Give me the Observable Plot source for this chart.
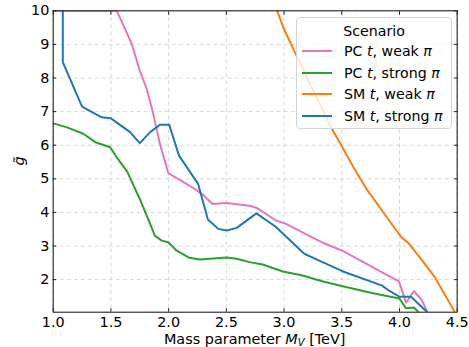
<!DOCTYPE html>
<html>
<head>
<meta charset="utf-8">
<script src="https://cdn.jsdelivr.net/npm/d3@7"></script>
<script src="https://cdn.jsdelivr.net/npm/@observablehq/plot@0.6"></script>
<style>
  html, body { margin: 0; padding: 0; background: white; }
  #wrap { position: relative; width: 469px; height: 347px; font-family: "DejaVu Sans", sans-serif; }
  #legend { position: absolute; left: 296px; top: 17px; width: 154px; height: 110px;
    border: 1px solid #d4d4d4; border-radius: 4px; background: rgba(255,255,255,0.8);
    font-size: 14.2px; color: #000; }
  #legend .title { position: absolute; left: 0; width: 100%; text-align: center; top: 5px; line-height: 16px; }
  #legend .row { position: absolute; left: 0; width: 100%; height: 16px; line-height: 16px; }
  #legend .swatch { position: absolute; left: 5px; top: 7px; width: 30px; height: 2px; }
  #legend .lab { position: absolute; left: 47px; top: 0; white-space: nowrap; }
  i { font-style: italic; }
</style>
</head>
<body>
<div id="wrap">
  <div id="chart"></div>
  <div id="legend"></div>
</div>
<script>
// ---- Data ----
const seriesNames = ["PC t, weak π", "PC t, strong π", "SM t, weak π", "SM t, strong π"];
const seriesColors = ["#e377c2", "#2ca02c", "#ff7f0e", "#1f77b4"];

const pcWeakX = [1.0, 1.55, 1.61, 1.68, 1.75, 1.81, 1.86, 1.925, 1.997, 2.18, 2.30, 2.38, 2.50, 2.70, 2.76, 2.93, 3.017, 3.13, 3.32, 3.505, 3.83, 3.995, 4.057, 4.125, 4.195, 4.24];
const pcWeakY = [10.0, 10.0, 9.56, 9.02, 8.22, 7.68, 7.03, 6.04, 5.17, 4.80, 4.52, 4.25, 4.28, 4.20, 4.14, 3.76, 3.66, 3.46, 3.12, 2.86, 2.25, 1.95, 1.31, 1.66, 1.38, 1.04];

const pcStrongX = [1.0, 1.12, 1.26, 1.365, 1.494, 1.55, 1.64, 1.75, 1.84, 1.88, 1.94, 1.997, 2.07, 2.18, 2.27, 2.50, 2.59, 2.70, 2.815, 2.99, 3.16, 3.33, 3.49, 3.76, 4.0, 4.055, 4.125, 4.165];
const pcStrongY = [6.65, 6.53, 6.34, 6.09, 5.94, 5.64, 5.22, 4.40, 3.66, 3.31, 3.16, 3.11, 2.86, 2.65, 2.60, 2.66, 2.62, 2.52, 2.45, 2.24, 2.12, 1.95, 1.82, 1.60, 1.44, 1.15, 1.17, 1.03];

const smWeakX = [2.94, 2.95, 3.0, 3.1, 3.2, 3.3, 3.42, 3.505, 3.6, 3.66, 3.72, 3.85, 3.91, 4.02, 4.08, 4.2, 4.31, 4.48];
const smWeakY = [10.0, 9.91, 9.45, 8.72, 8.0, 7.3, 6.45, 5.94, 5.35, 5.0, 4.67, 4.05, 3.76, 3.25, 3.08, 2.55, 2.05, 1.03];

const smStrongX = [1.083, 1.083, 1.25, 1.42, 1.50, 1.666, 1.75, 1.84, 1.925, 2.005, 2.09, 2.255, 2.34, 2.43, 2.505, 2.59, 2.76, 2.925, 3.017, 3.175, 3.30, 3.505, 3.85, 3.91, 4.0, 4.10, 4.24];
const smStrongY = [10.0, 8.47, 7.15, 6.83, 6.80, 6.39, 6.06, 6.39, 6.61, 6.61, 5.69, 4.85, 3.79, 3.51, 3.46, 3.54, 3.97, 3.58, 3.28, 2.77, 2.57, 2.25, 1.82, 1.67, 1.49, 1.49, 1.03];

const xTicks = [1.0, 1.5, 2.0, 2.5, 3.0, 3.5, 4.0, 4.5];
const yTicks = [2, 3, 4, 5, 6, 7, 8, 9, 10];

// ---- Build table ----
const seriesXY = [[pcWeakX, pcWeakY], [pcStrongX, pcStrongY], [smWeakX, smWeakY], [smStrongX, smStrongY]];
const rows = seriesXY.flatMap(([xs, ys], k) => xs.map((x, i) => ({x, y: ys[i], s: seriesNames[k]})));

const gridStyle = {stroke: "#b0b0b0", strokeOpacity: 0.55, strokeDasharray: "4,3", strokeWidth: 0.9};

const svg = Plot.plot({
  width: 469, height: 347,
  marginLeft: 52.7, marginRight: 12.3, marginTop: 10.3, marginBottom: 35.3,
  style: {fontFamily: "DejaVu Sans, sans-serif", fontSize: "14.4px", color: "#000", background: "white", overflow: "visible"},
  x: {domain: [1, 4.5]},
  y: {domain: [1.03, 10]},
  color: {domain: seriesNames, range: seriesColors},
  marks: [
    Plot.gridX(xTicks, gridStyle),
    Plot.gridY(yTicks, gridStyle),
    Plot.line(rows, {x: "x", y: "y", z: "s", stroke: "s", strokeWidth: 2, clip: true}),
    Plot.frame({stroke: "#222", strokeWidth: 1.1}),
    Plot.axisX(xTicks, {anchor: "bottom", tickSize: -3.5, tickPadding: 8.5, tickFormat: d3.format(".1f"), label: null, stroke: "#222"}),
    Plot.axisX(xTicks, {anchor: "top", tickSize: -3.5, tickFormat: () => "", label: null, stroke: "#222"}),
    Plot.axisY(yTicks, {anchor: "left", tickSize: -3.5, tickPadding: 7.3, label: null, stroke: "#222"}),
    Plot.axisY(yTicks, {anchor: "right", tickSize: -3.5, tickFormat: () => "", label: null, stroke: "#222"})
  ]
});
document.getElementById("chart").appendChild(svg);

// Axis labels with math styling
const s = d3.select(svg);
const xl = s.append("text").attr("x", 254.7).attr("y", 343.5).attr("text-anchor", "middle")
  .attr("font-size", "14.4px").attr("fill", "#000");
xl.append("tspan").text("Mass parameter ");
xl.append("tspan").attr("font-style", "italic").text("M");
xl.append("tspan").attr("font-style", "italic").attr("font-size", "10px").attr("dy", "2.5").text("V");
xl.append("tspan").attr("dy", "-2.5").text(" [TeV]");

s.append("text").attr("transform", "translate(24,161) rotate(-90)").attr("text-anchor", "middle")
  .attr("font-size", "14.4px").attr("font-style", "italic").attr("fill", "#000").text("g\u0303");

// Legend
const legend = document.getElementById("legend");
legend.innerHTML = '<div class="title">Scenario</div>';
const legendLabels = [
  'PC <i>t</i>, weak <i>π</i>',
  'PC <i>t</i>, strong <i>π</i>',
  'SM <i>t</i>, weak <i>π</i>',
  'SM <i>t</i>, strong <i>π</i>'
];
const rowTops = [25, 46.7, 68.3, 90];
seriesNames.forEach((n, k) => {
  const r = document.createElement("div");
  r.className = "row";
  r.style.top = rowTops[k] + "px";
  r.innerHTML = `<div class="swatch" style="background:${seriesColors[k]}"></div><div class="lab">${legendLabels[k]}</div>`;
  legend.appendChild(r);
});
</script>
</body>
</html>
